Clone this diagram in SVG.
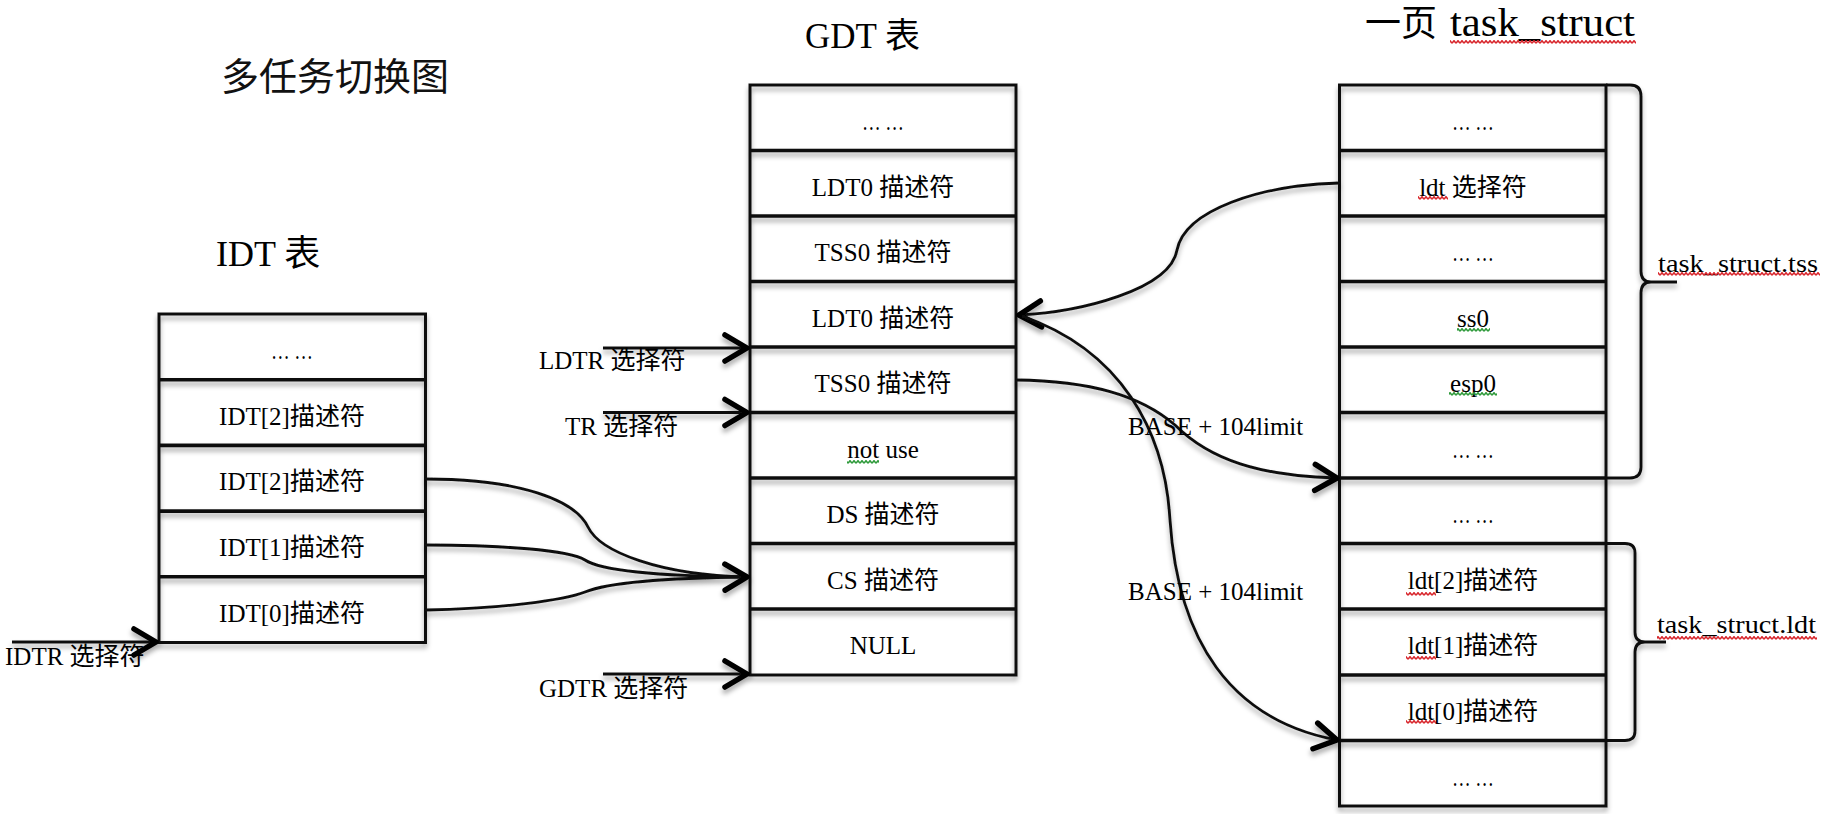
<svg xmlns="http://www.w3.org/2000/svg" width="1828" height="814" viewBox="0 0 1828 814">
<defs>
<style>
.frame{fill:none;stroke:#111;stroke-width:3}
.div{stroke:#111;stroke-width:3.6}
.t{font-family:"Liberation Serif","Noto Sans CJK SC",serif;font-size:25px;fill:#000}
.c{text-anchor:middle}
.title{font-family:"Liberation Serif","Noto Sans CJK SC",serif;fill:#000}
.cn{font-family:"Noto Sans CJK SC",sans-serif;fill:#111}
.conn{fill:none;stroke:#111;stroke-width:2.8}
.arr{marker-end:url(#chev)}
</style>
<filter id="sh" filterUnits="userSpaceOnUse" x="0" y="0" width="1828" height="814">
<feDropShadow dx="0" dy="4" stdDeviation="2.5" flood-color="#000" flood-opacity="0.35"/>
</filter>
<marker id="chev" markerUnits="userSpaceOnUse" viewBox="-30 -20 36 40" markerWidth="36" markerHeight="40" refX="0" refY="0" orient="auto" overflow="visible">
<path d="M-22 -13 L0 0 L-22 13" fill="none" stroke="#000" stroke-width="5.5" stroke-linecap="round" stroke-linejoin="round"/>
</marker>
<pattern id="wr" width="4" height="4" patternUnits="userSpaceOnUse"><path d="M0 3.3 L2 0.7 L4 3.3" fill="none" stroke="#d8262c" stroke-width="1.5"/></pattern>
<pattern id="wg" width="4" height="4" patternUnits="userSpaceOnUse"><path d="M0 3.3 L2 0.7 L4 3.3" fill="none" stroke="#2e9a3a" stroke-width="1.5"/></pattern>
</defs>
<rect width="1828" height="814" fill="#fff"/>

<g id="titles">
<text class="cn" x="221" y="90" font-size="38">多任务切换图</text>
<text class="title" x="216" y="266" font-size="36">IDT 表</text>
<text class="title" x="805" y="48" font-size="35">GDT 表</text>
<text class="title" x="1365" y="36" font-size="36">一页 <tspan x="1450" font-size="40" textLength="185" lengthAdjust="spacingAndGlyphs">task_struct</tspan></text>
<rect x="1450" y="40" width="186" height="4" fill="url(#wr)"/>
</g>

<g id="idt">
<g filter="url(#sh)">
<rect class="frame" x="159" y="314" width="266.5" height="328.5"/>
<path class="div" d="M159 379.7H425.5M159 445.4H425.5M159 511.1H425.5M159 576.8H425.5"/>
</g>
<text class="t c" x="292" y="359" textLength="42" lengthAdjust="spacingAndGlyphs">… …</text>
<text class="t c" x="292" y="424.7">IDT[2]描述符</text>
<text class="t c" x="292" y="490.4">IDT[2]描述符</text>
<text class="t c" x="292" y="556.1">IDT[1]描述符</text>
<text class="t c" x="292" y="621.8">IDT[0]描述符</text>
</g>

<g id="gdt">
<g filter="url(#sh)">
<rect class="frame" x="750" y="85" width="266" height="590"/>
<path class="div" d="M750 150.5H1016M750 216H1016M750 281.5H1016M750 347H1016M750 412.5H1016M750 478H1016M750 543.5H1016M750 609H1016"/>
</g>
<text class="t c" x="883" y="130" textLength="42" lengthAdjust="spacingAndGlyphs">… …</text>
<text class="t c" x="883" y="195.5">LDT0 描述符</text>
<text class="t c" x="883" y="261">TSS0 描述符</text>
<text class="t c" x="883" y="326.5">LDT0 描述符</text>
<text class="t c" x="883" y="392">TSS0 描述符</text>
<text class="t c" x="883" y="457.5">not use</text>
<rect x="847" y="460" width="32" height="4" fill="url(#wg)"/>
<text class="t c" x="883" y="523">DS 描述符</text>
<text class="t c" x="883" y="588.5">CS 描述符</text>
<text class="t c" x="883" y="654">NULL</text>
</g>

<g id="task">
<g filter="url(#sh)">
<rect class="frame" x="1339.5" y="85" width="266.5" height="721"/>
<path class="div" d="M1339.5 150.5H1606M1339.5 216H1606M1339.5 281.5H1606M1339.5 347H1606M1339.5 412.5H1606M1339.5 478H1606M1339.5 543.5H1606M1339.5 609H1606M1339.5 675H1606M1339.5 740.5H1606"/>
</g>
<text class="t c" x="1473" y="130" textLength="42" lengthAdjust="spacingAndGlyphs">… …</text>
<text class="t c" x="1473" y="195.5">ldt 选择符</text>
<rect x="1418" y="196" width="30" height="4" fill="url(#wr)"/>
<text class="t c" x="1473" y="261" textLength="42" lengthAdjust="spacingAndGlyphs">… …</text>
<text class="t c" x="1473" y="326.5">ss0</text>
<rect x="1457" y="328" width="33" height="4" fill="url(#wg)"/>
<text class="t c" x="1473" y="392">esp0</text>
<rect x="1449" y="392" width="48" height="4" fill="url(#wg)"/>
<text class="t c" x="1473" y="457.5" textLength="42" lengthAdjust="spacingAndGlyphs">… …</text>
<text class="t c" x="1473" y="523" textLength="42" lengthAdjust="spacingAndGlyphs">… …</text>
<text class="t c" x="1473" y="588.5">ldt[2]描述符</text>
<rect x="1406" y="592" width="30" height="4" fill="url(#wr)"/>
<text class="t c" x="1473" y="654">ldt[1]描述符</text>
<rect x="1406" y="656" width="30" height="4" fill="url(#wr)"/>
<text class="t c" x="1473" y="720">ldt[0]描述符</text>
<rect x="1406" y="720" width="30" height="4" fill="url(#wr)"/>
<text class="t c" x="1473" y="785.5" textLength="42" lengthAdjust="spacingAndGlyphs">… …</text>
</g>

<g id="brace-tss">
<path filter="url(#sh)" fill="none" stroke="#111" stroke-width="2.8" d="M1606 85H1630Q1641 85 1641 96V271Q1641 282 1651 282Q1641 282 1641 293V467Q1641 478 1630 478H1606M1650 282H1677"/>
<text class="t" x="1658" y="272" font-size="24" textLength="160" lengthAdjust="spacingAndGlyphs">task_struct.tss</text>
<rect x="1658" y="272" width="162" height="4" fill="url(#wr)"/>
</g>

<g id="brace-ldt">
<path filter="url(#sh)" fill="none" stroke="#111" stroke-width="2.8" d="M1606 543.5H1625Q1635 543.5 1635 553V632Q1635 642 1645 642Q1635 642 1635 652V731Q1635 740.5 1625 740.5H1606M1644 642H1666"/>
<text class="t" x="1657" y="633" font-size="24" textLength="159" lengthAdjust="spacingAndGlyphs">task_struct.ldt</text>
<rect x="1657" y="636" width="160" height="4" fill="url(#wr)"/>
</g>

<g id="connectors" filter="url(#sh)">
<path class="conn arr" d="M12 642H156"/>
<path class="conn arr" d="M603 348H747"/>
<path class="conn arr" d="M603 412.5H747"/>
<path class="conn arr" d="M603 674H747"/>
<path class="conn" d="M425.5 479C520 479 575 500 588 527C600 552 660 575 747 577"/>
<path class="conn" d="M425.5 545C500 545 570 550 585 560C600 570 650 576 747 577"/>
<path class="conn arr" d="M425.5 610C500 609 565 600 585 592C605 584 650 578 747 577"/>
<path class="conn arr" d="M1339.5 183C1260 185 1185 210 1177 250C1170 290 1080 312 1019 315"/>
<path class="conn arr" d="M1022 316C1120 350 1165 430 1170 520C1178 640 1230 720 1337 740"/>
<path class="conn arr" d="M1016 380C1090 381 1140 395 1175 425C1210 460 1260 476 1337 478"/>
</g>

<g id="labels">
<text class="t" x="539" y="369">LDTR 选择符</text>
<text class="t" x="565" y="435">TR 选择符</text>
<text class="t" x="539" y="697">GDTR 选择符</text>
<text class="t" x="5" y="665">IDTR 选择符</text>
<text class="t" x="1128" y="435" font-size="26">BASE + 104limit</text>
<text class="t" x="1128" y="600" font-size="26">BASE + 104limit</text>
</g>
</svg>
